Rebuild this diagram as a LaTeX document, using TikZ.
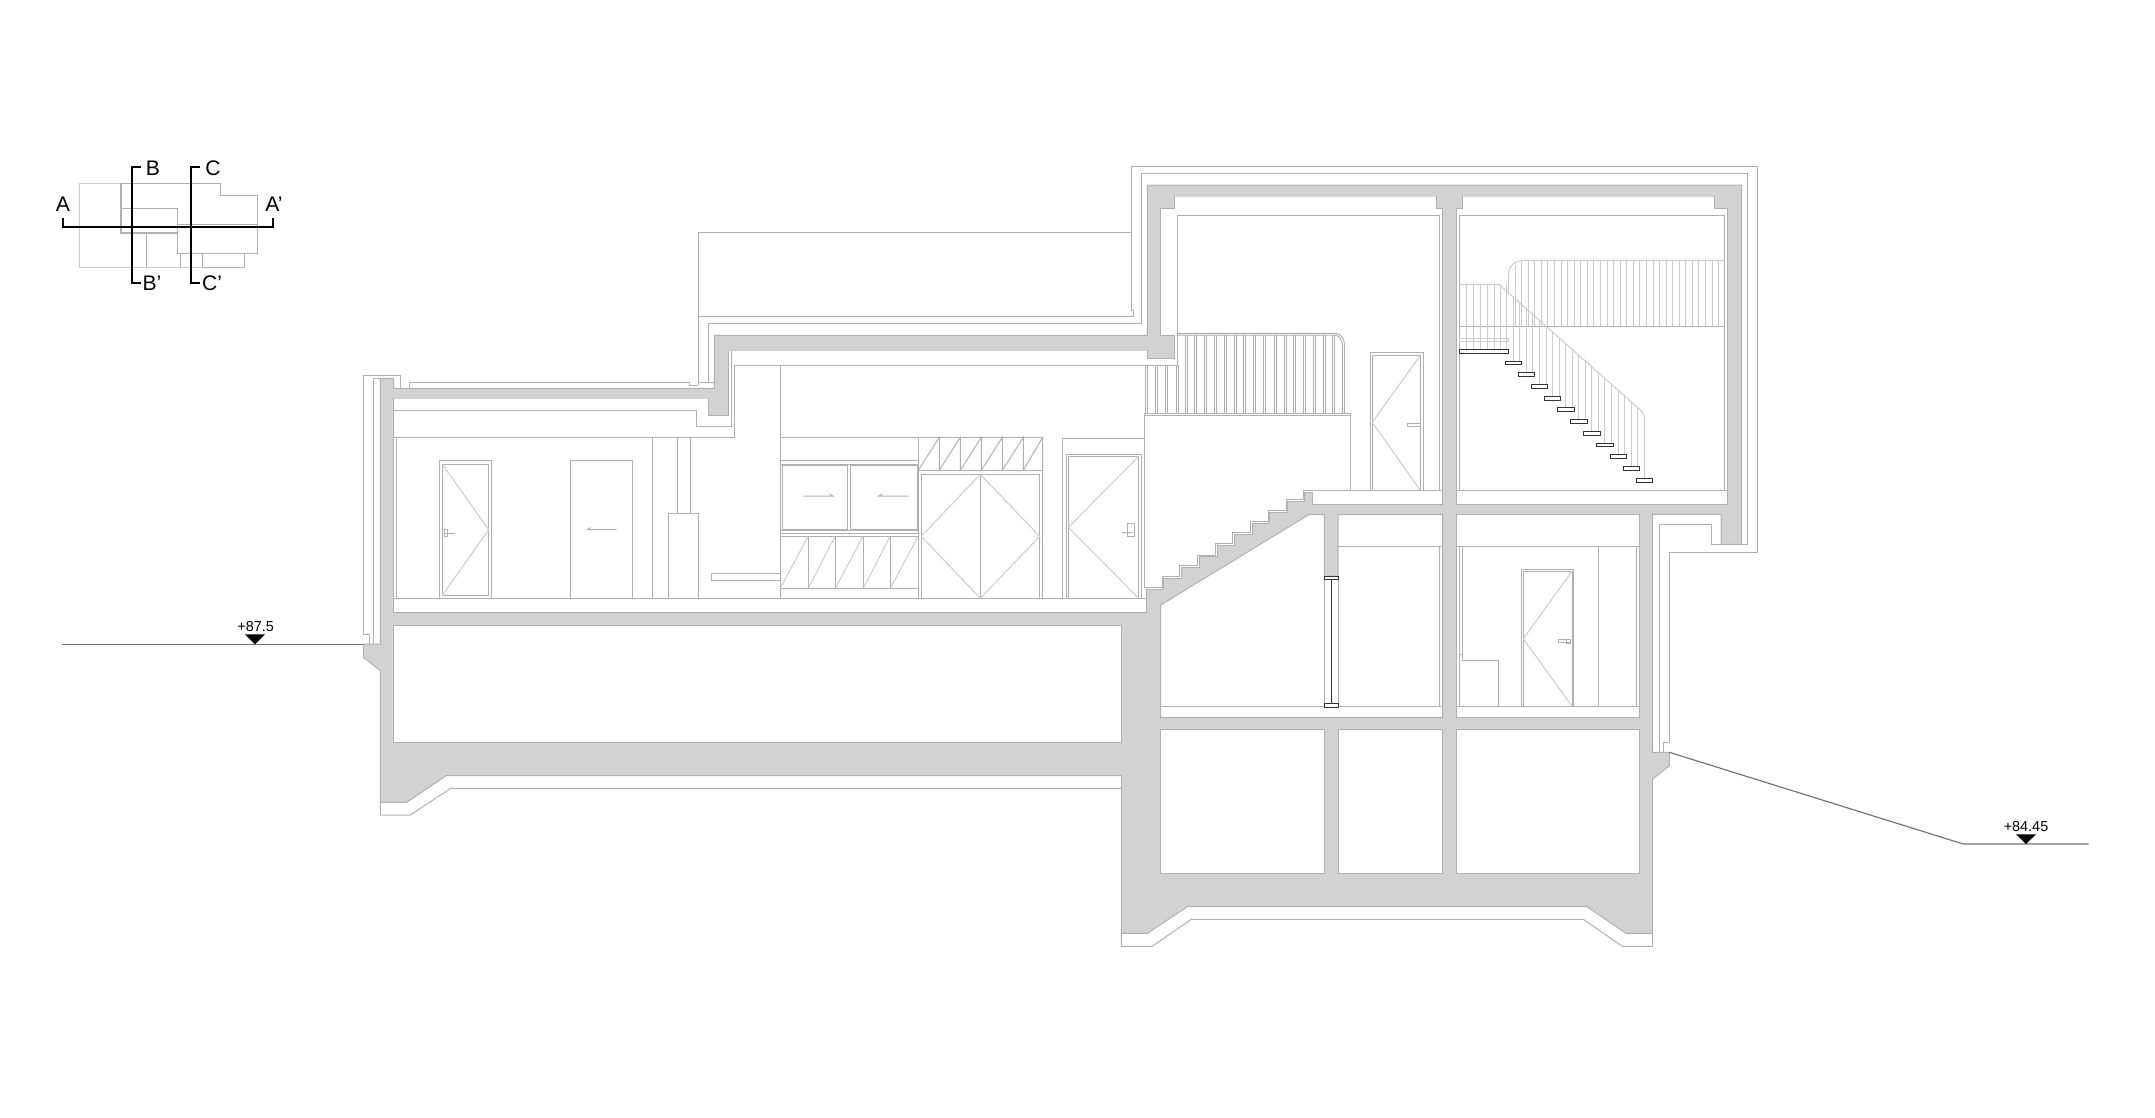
\documentclass[tikz,border=0pt]{standalone}
\usepackage{fontspec}
\setmainfont{Liberation Sans}
\definecolor{wallgray}{HTML}{D2D2D2}
\definecolor{linegray}{HTML}{B0B0B0}
\definecolor{railgray}{HTML}{CCCCCC}
\definecolor{groundgray}{HTML}{707070}
\definecolor{treadgray}{HTML}{333333}
\tikzset{
  lin/.style={draw=linegray,line width=0.28pt},
  rail/.style={draw=railgray,line width=0.28pt},
  wall/.style={fill=wallgray,draw=linegray,line width=0.28pt},
  room/.style={fill=white,draw=linegray,line width=0.28pt},
  soffit/.style={draw=wallgray,line width=0.3pt},
  tread/.style={fill=white,draw=treadgray,line width=0.28pt},
  ground/.style={draw=groundgray,line width=0.32pt},
  section/.style={draw=black,line width=0.6pt},
  marker/.style={fill=black},
  keylabel/.style={inner sep=0pt,font=\fontsize{6}{7}\selectfont},
  levellabel/.style={inner sep=0pt,font=\fontsize{4.1}{5}\selectfont}
}
\begin{document}
\begin{tikzpicture}[x=0.01cm,y=-0.01cm]
\useasboundingbox (0,0) rectangle (2155,1117);

\draw[rail] (79,183) -- (121,183) (79,183) -- (79,267) -- (202,267);
\draw[lin] (121,183) -- (220.7,183) -- (220.7,195) -- (257,195) -- (257,253) -- (177.7,253) -- (177.7,208) -- (121,208);
\draw[lin,line width=0.5pt] (121,183) -- (121,233) -- (177.7,233);
\draw[lin] (177.7,224.3) -- (257,224.3) (146,233) -- (146,267) (180,253) -- (180,267);
\draw[lin] (202,253) -- (202,267) -- (244,267) -- (244,253);
\draw[section] (63,218) -- (63,226.7) -- (273,226.7) -- (273,218);
\draw[section] (141,167) -- (132,167) -- (132,283) -- (141,283);
\draw[section] (200,167) -- (191,167) -- (191,283) -- (200,283);
\node[keylabel] (keyA) at (63,204) {A};
\node[keylabel] (keyAp) at (274,204) {A'};
\node[keylabel] (keyB) at (153,168) {B};
\node[keylabel] (keyBp) at (152,283) {B'};
\node[keylabel] (keyC) at (213,168) {C};
\node[keylabel] (keyCp) at (212,283) {C'};

\draw[lin] (363.3,634) -- (363.3,375.3) -- (400.3,375.3) -- (400.3,388.3);
\draw[lin] (363.3,634) -- (369.7,634) -- (369.7,644);
\draw[lin] (373.3,644) -- (373.3,378.3) -- (380.3,378.3);
\draw[lin] (409.3,388.3) -- (409.3,382.3) -- (689.3,382.3) -- (689.3,385) -- (698.3,385);
\draw[lin] (698.3,385) -- (698.3,232.3) -- (1131.7,232.3);
\draw[lin] (698.3,316.3) -- (1133,316.3) -- (1133,310) -- (1131.7,310) -- (1131.7,166.7) -- (1757.7,166.7) -- (1757.7,552.5) -- (1669.3,552.5) -- (1669.3,742.3) -- (1663.3,742.3) -- (1663.3,752.3);
\draw[lin] (698.3,382.3) -- (714.3,382.3);
\draw[lin] (708.3,382.3) -- (708.3,323.3) -- (1141.7,323.3) -- (1141.7,173.3) -- (1747.7,173.3) -- (1747.7,544) -- (1711.3,544) -- (1711.3,524.3) -- (1659.3,524.3) -- (1659.3,752.3);
\draw[lin] (380.3,802.3) -- (380.3,815) -- (410.3,815) -- (450.7,788.3) -- (1121.3,788.3);
\draw[lin] (1121.3,933.3) -- (1121.3,946.3) -- (1152,946.3) -- (1191.3,919.3) -- (1583.3,919.3) -- (1622.3,946.3) -- (1652.7,946.3) -- (1652.7,933.3);

\path[wall] (380.3,378.3) -- (393.7,378.3) -- (393.7,388.3) -- (714.3,388.3) -- (714.3,335.3) -- (1147.3,335.3) -- (1147.3,185) -- (1741.7,185) -- (1741.7,544.3) -- (1721,544.3) -- (1721,514.3) -- (1652.7,514.3) -- (1652.7,752.3) -- (1669.3,752.3) -- (1669.3,765.7) -- (1652.7,779) -- (1652.7,933.3) -- (1626,933.3) -- (1587,906.7) -- (1187.3,906.7) -- (1147.3,933.3) -- (1121.3,933.3) -- (1121.3,775.7) -- (446,775.7) -- (406.7,802.3) -- (380.3,802.3) -- (380.3,670.7) -- (363.3,657.3) -- (363.3,644) -- (380.3,644) -- cycle;

\path[room] (393.7,398.3) -- (708.3,398.3) -- (708.3,415) -- (728.3,415) -- (728.3,350.5) -- (1147.3,350.5) -- (1147.3,358) -- (1174.7,358) -- (1174.7,335) -- (1160.7,335) -- (1160.7,208.3) -- (1174.7,208.3) -- (1174.7,196.7) -- (1436,196.7) -- (1436,208.3) -- (1442.7,208.3) -- (1442.7,504.3) -- (1312.3,504.3) -- (1312.3,492.3) -- (1304,492.3) -- (1304,501.7) -- (1287.7,501.7) -- (1287.7,512.7) -- (1269.7,512.7) -- (1269.7,523.3) -- (1252.3,523.3) -- (1252.3,534.3) -- (1234.3,534.3) -- (1234.3,545) -- (1217,545) -- (1217,556.7) -- (1199,556.7) -- (1199,567.3) -- (1181,567.3) -- (1181,578.3) -- (1163.3,578.3) -- (1163.3,589.3) -- (1146.7,589.3) -- (1146.7,612.5) -- (393.7,612.5) -- cycle;
\path[room] (1456,208.3) -- (1462.5,208.3) -- (1462.5,196.7) -- (1714.3,196.7) -- (1714.3,208.3) -- (1727.7,208.3) -- (1727.7,504.3) -- (1456,504.3) -- cycle;
\path[room] (393.7,625.7) rectangle (1121.3,742.3);
\path[room] (1160.7,605) -- (1309,514.5) -- (1324.3,514.5) -- (1324.3,576) -- (1338,576) -- (1338,514.5) -- (1442.7,514.5) -- (1442.7,717.3) -- (1160.7,717.3) -- cycle;
\path[room] (1456,514.3) rectangle (1639.3,717.3);
\path[room] (1160.7,729.3) rectangle (1324.3,873.3);
\path[room] (1338,729.3) rectangle (1442.7,873.3);
\path[room] (1456,729.3) rectangle (1639.3,873.3);
\draw[soffit] (1174.7,196.7) -- (1436,196.7) (1462.5,196.7) -- (1714.3,196.7);
\draw[soffit] (393.7,398.3) -- (708.3,398.3) (728.3,350.5) -- (1147.3,350.5);

\draw[lin] (393.7,410.7) -- (696.3,410.7) -- (696.3,426.3) -- (731.7,426.3) -- (731.7,350.5);
\draw[lin] (393.7,437.3) -- (734.7,437.3) -- (734.7,365.3) -- (1177.3,365.3) -- (1177.3,215.3) -- (1439.3,215.3) -- (1439.3,490.3);
\draw[lin] (396.7,437.3) -- (396.7,598.3);
\draw[lin] (393.7,598.3) -- (1146.7,598.3);
\draw[lin] (652.3,437.3) -- (652.3,598.3);
\draw[lin] (677.3,437.3) -- (677.3,513.3) (690.7,437.3) -- (690.7,513.3);
\draw[lin] (668.3,598.3) -- (668.3,513.3) -- (698.7,513.3) -- (698.7,598.3);
\draw[lin] (780.3,573.3) -- (711.3,573.3) -- (711.3,580.3) -- (780.3,580.3);

\draw[lin] (439.3,598.3) -- (439.3,460.3) -- (491.7,460.3) -- (491.7,598.3);
\draw[lin] (442.3,464.3) rectangle (488.7,595.3);
\draw[rail] (442.3,464.3) -- (488.7,529.7) -- (442.3,595.3);
\draw[lin] (444.3,529.3) rectangle (447.7,536.7) (444.3,533) -- (455,533);
\draw[lin] (570.3,598.3) -- (570.3,460.3) -- (632.7,460.3) -- (632.7,598.3);
\draw[lin] (616.7,529.7) -- (587.3,529.7) -- (590.5,527.5);

\draw[lin] (780.3,365.3) -- (780.3,598.3);
\draw[lin] (780.3,437.3) -- (1042.7,437.3);
\foreach \yy in {460.3,464,530,533.3,536,588.3}
  \draw[lin] (780.3,\yy) -- (918.3,\yy);
\draw[lin] (782.3,465.3) rectangle (847.7,529);
\draw[lin] (850.7,465.3) rectangle (917,529);
\draw[lin] (803.3,496) -- (832.7,496) -- (829.5,494);
\draw[lin] (908.7,496) -- (879,496) -- (882.2,494);
\foreach \xa/\xb in {780.3/808.3,808.3/835.3,835.3/863.3,863.3/890.3,890.3/918.3}
  \draw[rail] (\xa,588.3) -- (\xb,536);
\draw[lin] (808.3,536) -- (808.3,588.3) (835.3,536) -- (835.3,588.3) (863.3,536) -- (863.3,588.3) (890.3,536) -- (890.3,588.3);
\draw[lin] (918.3,437.3) -- (918.3,598.3);
\draw[lin] (918.3,470.3) -- (1042.7,470.3);
\foreach \xa/\xb in {918.3/939.3,939.3/960.3,960.3/981.3,981.3/1002.3,1002.3/1023.3,1023.3/1042.7}
  \draw[lin] (\xa,470.3) -- (\xb,437.3) -- (\xb,470.3);
\draw[lin] (1042.7,437.3) -- (1042.7,598.3);
\draw[lin] (921.3,598.3) -- (921.3,474.3) -- (1039.7,474.3) -- (1039.7,598.3);
\draw[lin] (980.3,474.3) -- (980.3,598.3);
\draw[rail] (980.3,474.3) -- (921.3,536.3) -- (980.3,598.3) -- (1039.7,536.3) -- cycle;

\draw[lin] (1062.3,598.3) -- (1062.3,438.3) -- (1144.3,438.3);
\draw[lin] (1144.3,413.3) -- (1144.3,587.7) -- (1146.7,587.7);
\draw[lin] (1066.3,598.3) -- (1066.3,454.3) -- (1141.7,454.3) -- (1141.7,598.3);
\draw[lin] (1068.3,598.3) -- (1068.3,456.3) -- (1138.7,456.3) -- (1138.7,598.3);
\draw[rail] (1138.7,456.3) -- (1068.3,527.3) -- (1138.7,598.3);
\draw[lin] (1127.3,523.3) rectangle (1134.7,536.7) (1122.3,532.7) -- (1133,532.7);

\draw[lin] (1144.3,587.5) -- (1162,587.5) -- (1162,576.5) -- (1179.5,576.5) -- (1179.5,565.5) -- (1197.5,565.5) -- (1197.5,555) -- (1215.5,555) -- (1215.5,543.2) -- (1232.8,543.2) -- (1232.8,532.5) -- (1250.8,532.5) -- (1250.8,521.5) -- (1268.2,521.5) -- (1268.2,510.9) -- (1286.2,510.9) -- (1286.2,499.9) -- (1303,499.9) -- (1303,490.3) -- (1442.7,490.3);

\draw[lin] (1177.3,333.3) -- (1335,333.3) .. controls (1340,333.3) and (1344.3,338) .. (1344.3,343.3) -- (1344.3,413.3);
\draw[lin] (1177.3,335) -- (1334,335) .. controls (1339,335) and (1342.3,340) .. (1342.3,345) -- (1342.3,413.3);
\draw[lin] (1144.3,413.3) -- (1350.7,413.3) -- (1350.7,490.3);
\draw[lin] (1144.3,415.3) -- (1350.7,415.3);
\foreach \bx in {1145.3,1155.3,1165.7,1176}
  \draw[lin] (\bx,365.3) -- (\bx,413.3) (\bx+2,365.3) -- (\bx+2,413.3);
\foreach \bx in {1185,1194.3,1204.7,1214.7,1224.7,1234.3,1243.3,1253.7,1263.7,1274,1284.3,1293.7,1303.7,1313,1323.3,1332.7}
  \draw[lin] (\bx,335) -- (\bx,413.3) (\bx+2,335) -- (\bx+2,413.3);

\draw[lin] (1370.3,490.3) -- (1370.3,352.3) -- (1423.3,352.3) -- (1423.3,490.3);
\draw[lin] (1372.3,490.3) -- (1372.3,355.3) -- (1420.3,355.3) -- (1420.3,490.3);
\draw[rail] (1420.3,355.3) -- (1372.3,422.3) -- (1420.3,490.3);
\draw[lin] (1407.3,423.2) rectangle (1420,426.2);

\draw[lin] (1459.3,490.3) -- (1459.3,215.3) -- (1724.7,215.3) -- (1724.7,490.3);
\draw[lin] (1456,490.3) -- (1727.7,490.3);
\draw[lin] (1459.3,326.3) -- (1724.7,326.3);
\draw[rail] (1724.7,260.3) -- (1525,260.3) .. controls (1514,260.3) and (1508.3,266) .. (1508.3,276.7) -- (1508.3,293);
\draw[rail] (1515,265) -- (1515,326.3);
\foreach \i in {1,...,31}
  \draw[rail] ({1515+\i*6.57},260.3) -- ({1515+\i*6.57},326.3);
\draw[rail] (1459.3,284.3) -- (1498.3,284.3) .. controls (1500,284.3) and (1501.5,286.5) .. (1503.3,288.3) -- (1636.7,406.7) .. controls (1641,410) and (1644.3,414) .. (1644.3,418.3) -- (1644.3,478.3);
\foreach \bx in {1466.7,1473.3,1480.3,1487,1494,1500.3,1506.7}
  \draw[rail] (\bx,284.3) -- (\bx,349.7);
\foreach \j in {0,...,19}{
  \pgfmathsetmacro\bx{1637.7-\j*6.55}
  \pgfmathsetmacro\railY{288.3+(\bx-1503.3)*0.8876}
  \pgfmathsetmacro\stepY{478.3-(int(\j/2)+1)*11.73}
  \draw[rail] (\bx,\railY) -- (\bx,\stepY);
}
\draw[rail] (1459.3,338.3) rectangle (1508.3,341.7);
\draw[tread] (1459.3,349.7) rectangle (1508.3,353.5);
\foreach \i in {0,...,10}
  \draw[tread] ({1636.3-\i*13.13},{478.3-\i*11.73}) rectangle ({1652.8-\i*13.13},{482.1-\i*11.73});

\draw[lin] (1338,546.3) -- (1442.7,546.3) (1439.3,546.3) -- (1439.3,706.3);
\draw[lin] (1160.7,706.3) -- (1442.7,706.3);
\draw[lin] (1324.3,579) -- (1324.3,703.3) (1338,579) -- (1338,703.3);
\draw[tread] (1324.3,576) rectangle (1338,579);
\draw[tread] (1324.3,703.3) rectangle (1338,707);
\draw[tread] (1331.3,579) -- (1331.3,703.3);

\draw[lin] (1456,546.3) -- (1639.3,546.3) (1456,706.3) -- (1639.3,706.3);
\draw[lin] (1459.3,546.3) -- (1459.3,706.3);
\draw[lin] (1462.3,546.3) -- (1462.3,660.3) -- (1498.3,660.3) -- (1498.3,706.3);
\draw[lin] (1459.3,654.3) -- (1462.3,654.3);
\draw[lin] (1521.7,706.3) -- (1521.7,569.3) -- (1573.7,569.3) -- (1573.7,706.3);
\draw[lin] (1523.3,706.3) -- (1523.3,571.3) -- (1572,571.3) -- (1572,706.3);
\draw[rail] (1572,571.3) -- (1523.3,638.7) -- (1572,706.3);
\draw[lin] (1558.3,639.8) rectangle (1570.7,642.8) (1566.5,639) rectangle (1570.7,643.5);
\draw[lin] (1598.7,546.3) -- (1598.7,706.3) (1636.7,546.3) -- (1636.7,706.3);

\draw[ground] (62,644.3) -- (363.3,644.3);
\draw[ground] (1669.3,752.3) -- (1963.3,844) -- (2088.7,844);
\fill[marker] (245,634.3) -- (265,634.3) -- (255,644.3) -- cycle;
\fill[marker] (2016,834.3) -- (2036,834.3) -- (2026,844) -- cycle;
\node[levellabel] (levelW) at (255.7,627) {+87.5};
\node[levellabel] (levelE) at (2026,827) {+84.45};
\end{tikzpicture}
\end{document}
